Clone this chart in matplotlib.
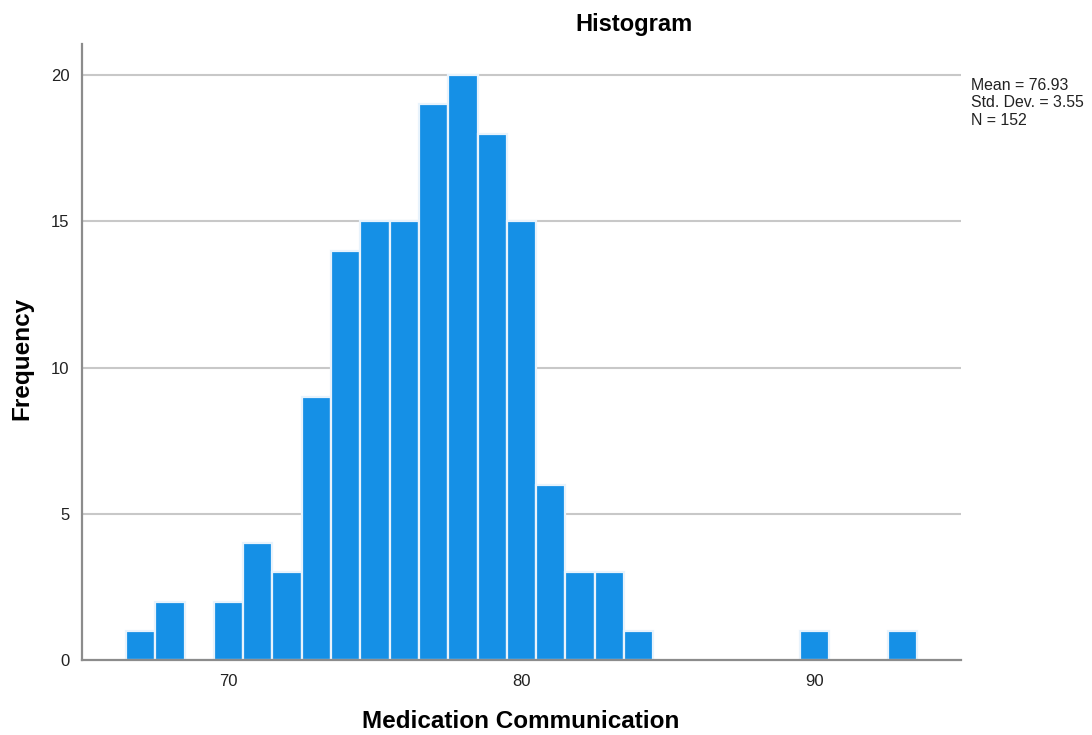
import matplotlib
matplotlib.use("Agg")
import matplotlib.pyplot as plt

plt.rcParams["font.family"] = ["Liberation Sans", "DejaVu Sans"]

# bin centres (width 1) and counts
centres = [67, 68, 69, 70, 71, 72, 73, 74, 75, 76, 77, 78, 79, 80, 81, 82, 83, 84, 90, 93]
counts = [1, 2, 0, 2, 4, 3, 9, 14, 15, 15, 19, 20, 18, 15, 6, 3, 3, 1, 1, 1]
xticks = [70, 80, 90]
yticks = [0, 5, 10, 15, 20]
stats = ["Mean = 76.93", "Std. Dev. = 3.55", "N = 152"]

BAR = "#1590e6"
GRID = "#c8c8c8"
SPINE = "#8c8c8c"

fig = plt.figure(figsize=(10.92, 7.35), dpi=100)
ax = fig.add_axes([82/1092, 1-660/735, (961-82)/1092, (660-44)/735])

ax.bar(centres, counts, width=1.0, color=BAR, edgecolor="#e8f3fc", linewidth=1.6, zorder=3)

ax.set_xlim(65, 95)
ax.set_ylim(0, 21.06)
ax.set_xticks(xticks)
ax.set_yticks(yticks)
ax.tick_params(length=0, labelsize=12, colors="#222222")
ax.tick_params(axis="x", pad=10)
ax.tick_params(axis="y", pad=9)
for v in yticks[1:]:
    ax.axhline(v, color=GRID, lw=1.5, zorder=1)
for s in ("top", "right"):
    ax.spines[s].set_visible(False)
for s in ("left", "bottom"):
    ax.spines[s].set_color(SPINE)
    ax.spines[s].set_linewidth(1.6)
    ax.spines[s].set_zorder(4)

fig.text(521/1092, 1-722/735, "Medication Communication", ha="center", va="center",
         fontsize=17.5, fontweight="bold")
fig.text(22/1092, 1-358/735, "Frequency", ha="center", va="center", rotation=90,
         fontsize=17.5, fontweight="bold")
fig.text(634/1092, 1-25/735, "Histogram", ha="center", va="center", fontsize=17, fontweight="bold")
fig.text(971/1092, 1-78/735, "\n".join(stats), ha="left", va="top", fontsize=11.4,
         linespacing=1.2, color="#222222")

fig.savefig("out.png", dpi=100)
